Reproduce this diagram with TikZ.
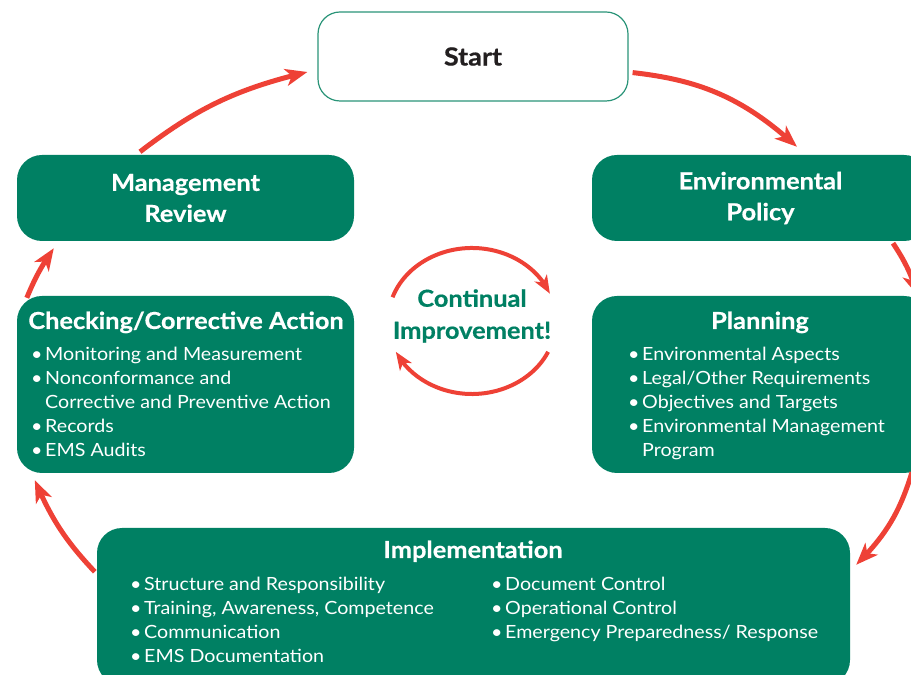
\documentclass[tikz,border=0pt]{standalone}
\usepackage{fontspec}
\setmainfont{Lato}[FakeStretch=1.08, BoldFeatures={FakeBold=0.5}]
\usetikzlibrary{arrows.meta,bending}
\definecolor{emsgreen}{HTML}{008063}
\definecolor{emsred}{HTML}{EE4136}
\definecolor{startline}{HTML}{2A9478}
\definecolor{starttext}{HTML}{231F20}
\newcommand\emsbul{\makebox[14pt][l]{\textbullet}}
\newcommand\emsind{\hspace*{14pt}}
\begin{document}
\begin{tikzpicture}[x=1pt,y=1pt,
  greenbox/.style={fill=emsgreen, draw=none, rounded corners=25pt, inner sep=0pt},
  boxtitle/.style={text=white, font=\fontsize{23.5}{31}\selectfont\bfseries, align=center, inner sep=0pt},
  listtext/.style={text=white, font=\fontsize{18.2}{24}\selectfont, align=left, anchor=north west, inner sep=0pt},
  cycle/.style={draw=emsred, line width=5pt, -{Stealth[length=22pt,width=17pt,inset=6pt]}},
  loop/.style={draw=emsred, line width=4pt, -{Stealth[length=18pt,width=14pt,inset=5pt]}}
]
\useasboundingbox (0,0) rectangle (911,675);
\clip (0,0) rectangle (911,675);

% boxes
\node[draw=startline, line width=1.2pt, rounded corners=22pt, fill=white,
      minimum width=310, minimum height=89, text=starttext,
      font=\fontsize{25}{30}\selectfont\bfseries] (start) at (473,618.5) {Start};
\node[greenbox, minimum width=337, minimum height=86] (mr) at (185.5,477) {};
\node[boxtitle] (mrT) at (mr.center) {Management\\Review};
\node[greenbox, minimum width=337, minimum height=86] (ep) at (760.5,477) {};
\node[boxtitle] (epT) at (ep.center) {Environmental\\Policy};
\node[greenbox, minimum width=337, minimum height=177] (ch) at (185.5,290.5) {};
\node[greenbox, minimum width=337, minimum height=177] (pl) at (760.5,290.5) {};
\node[greenbox, minimum width=753, minimum height=157] (im) at (473.5,68.5) {};

% titles
\node[boxtitle, anchor=base] (chT) at (186,346) {Checking/Corrective Action};
\node[boxtitle, anchor=base] (plT) at (760,346) {Planning};
\node[boxtitle, anchor=base] (imT) at (473,117) {Implementation};

% lists
\node[listtext] (chL) at (31,328) {\emsbul Monitoring and Measurement\\
  \emsbul Nonconformance and\\
  \emsind Corrective and Preventive Action\\
  \emsbul Records\\
  \emsbul EMS Audits};
\node[listtext] (plL) at (628,328) {\emsbul Environmental Aspects\\
  \emsbul Legal/Other Requirements\\
  \emsbul Objectives and Targets\\
  \emsbul Environmental Management\\
  \emsind Program};
\node[listtext] (imL) at (130,98) {\emsbul Structure and Responsibility\\
  \emsbul Training, Awareness, Competence\\
  \emsbul Communication\\
  \emsbul EMS Documentation};
\node[listtext] (imR) at (491,98) {\emsbul Document Control\\
  \emsbul Operational Control\\
  \emsbul Emergency Preparedness/ Response};

% centre
\node[text=emsgreen, font=\fontsize{23.5}{32}\selectfont\bfseries, align=center, inner sep=0pt]
  (ci) at (472,359) {Continual\\Improvement!};
\coordinate (cc) at (472,354);
\draw[loop] (cc) ++(161:84 and 73) arc[start angle=161, end angle=22, x radius=84, y radius=73];
\draw[loop] (cc) ++(-25:84 and 73) arc[start angle=-25, end angle=-155, x radius=84, y radius=73];

% cycle arrows
\draw[cycle] ([xshift=4pt,yshift=29pt]start.south east) to[bend left=18] ([xshift=36.5pt,yshift=8pt]ep.north);
\draw[cycle] ([xshift=132.5pt,yshift=-2pt]ep.south) to[bend left=8] ([xshift=157.5pt,yshift=0pt]pl.north);
\draw[cycle] ([xshift=151.5pt,yshift=1pt]pl.south) to[bend left=14] ([xshift=6pt,yshift=-37pt]im.north east);
\draw[cycle] ([xshift=-2pt,yshift=-44pt]im.north west) to[bend left=10] ([xshift=18pt,yshift=-7pt]ch.south west);
\draw[cycle] ([xshift=10pt,yshift=-2pt]ch.north west) to[bend left=6] ([xshift=37pt,yshift=-7pt]mr.south west);
\draw[cycle] ([xshift=-45.5pt,yshift=3pt]mr.north) to[bend left=12] ([xshift=-10pt,yshift=-15.5pt]start.west);
\end{tikzpicture}
\end{document}
